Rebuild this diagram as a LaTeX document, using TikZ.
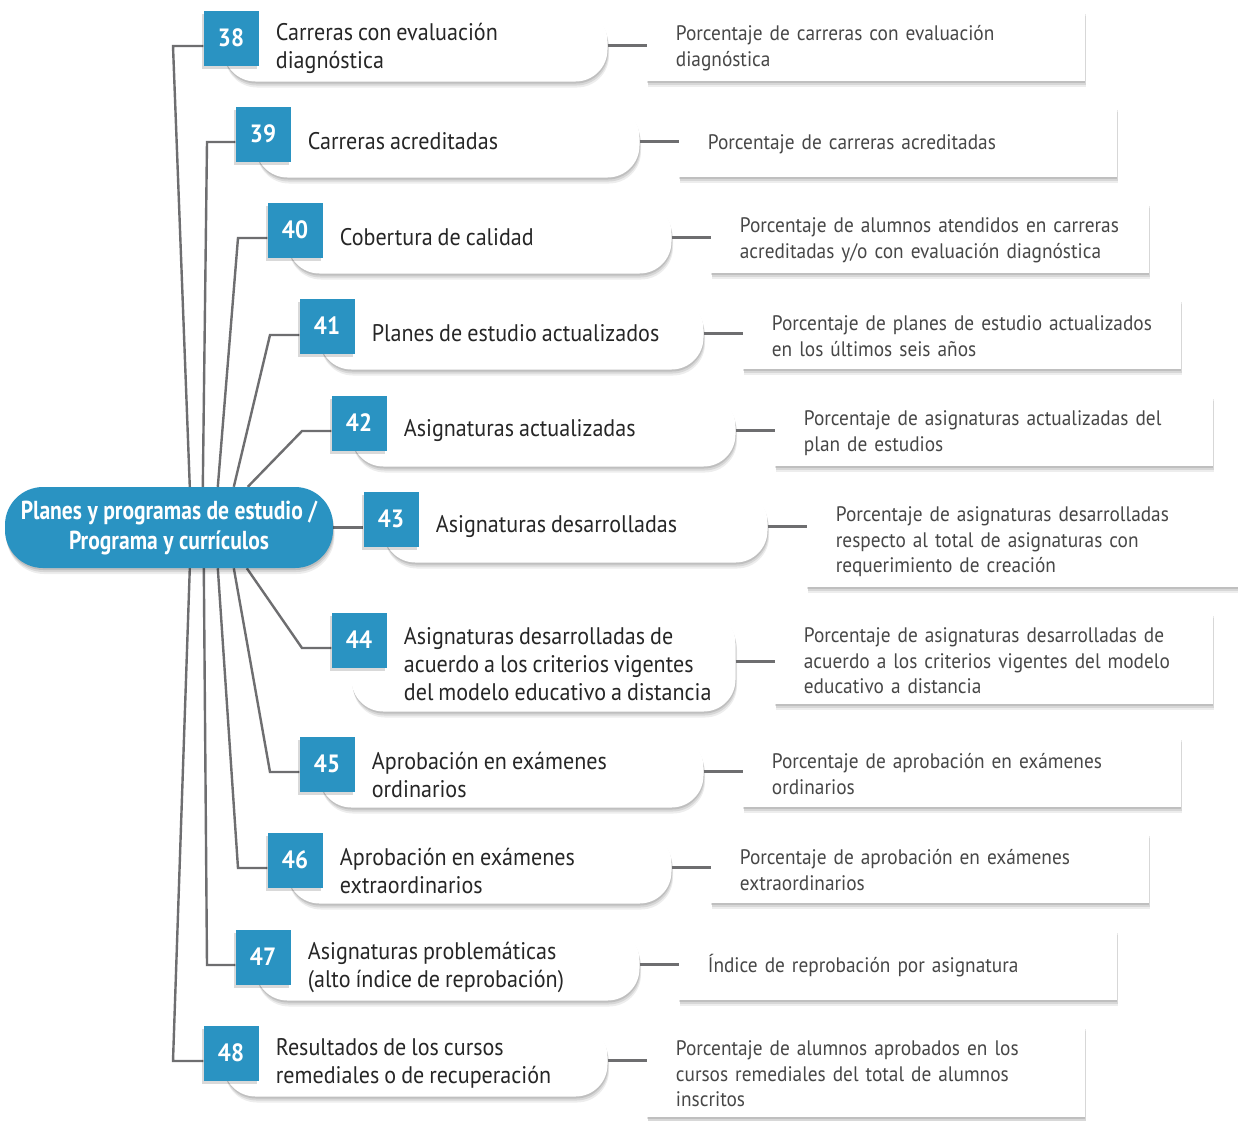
\documentclass[tikz,border=0pt]{standalone}
\usepackage{fontspec}
\newfontfamily\notefont{PT Sans}[FakeStretch=0.92, WordSpace=0.85]
\newfontfamily\headfont{PT Sans}[FakeStretch=0.83]
\usetikzlibrary{positioning,calc,shadows,backgrounds}
\definecolor{boxblue}{HTML}{2A93C2}
\definecolor{linegray}{HTML}{6E6E70}
\definecolor{inkgray}{HTML}{262626}

\begin{document}
\begin{tikzpicture}[x=1pt, y=-1pt, node distance=39pt]
	\tikzstyle{softshade} = [drop shadow={shadow xshift=0.5pt, shadow yshift=-2pt, opacity=0.11, fill=black},
	  drop shadow={shadow xshift=1pt, shadow yshift=-4pt, opacity=0.09, fill=black},
	  drop shadow={shadow xshift=1.5pt, shadow yshift=-6pt, opacity=0.07, fill=black}]
	\tikzstyle{root} = [fill=boxblue, text=white, rounded corners=38pt, minimum width=328pt, minimum height=81pt, inner sep=0pt, align=center, font=\headfont\bfseries\fontsize{26}{30}\selectfont, softshade]
	\tikzstyle{numbox} = [fill=boxblue, text=white, minimum size=55pt, inner sep=0pt, font=\notefont\bfseries\fontsize{25}{28}\selectfont, drop shadow={shadow xshift=-2pt, shadow yshift=-3pt, opacity=0.15, fill=black}]
	\tikzstyle{pill} = [fill=white, rounded corners=32pt, minimum width=384pt, minimum height=72pt, inner sep=0pt, anchor=north west, softshade]
	\tikzstyle{topic} = [anchor=west, align=left, inner sep=0pt, text=inkgray, font=\notefont\fontsize{24}{28}\selectfont]
	\tikzstyle{indicator} = [fill=white, text width=380pt, inner xsep=29pt, inner ysep=10pt, minimum height=71pt, align=left, text=inkgray!85, font=\notefont\fontsize{21}{25.5}\selectfont, execute at begin node={\rule{0pt}{21pt}}, softshade]
	\tikzstyle{conn} = [draw=linegray, line width=2.4pt]
	\useasboundingbox (0,0) rectangle (1238,1120);

	% root
	\node[root] (root) at (169,527.5) {Planes y programas de estudio /\\Programa y currículos};

	% number boxes
	\node[numbox] (n38) at (231,38) {38};
	\node[numbox] (n39) at (263,134) {39};
	\node[numbox] (n40) at (295,230) {40};
	\node[numbox] (n41) at (327,326) {41};
	\node[numbox] (n42) at (359,423) {42};
	\node[numbox] (n43) at (391,519) {43};
	\node[numbox] (n44) at (359,640) {44};
	\node[numbox] (n45) at (327,764) {45};
	\node[numbox] (n46) at (295,860) {46};
	\node[numbox] (n47) at (263,957) {47};
	\node[numbox] (n48) at (231,1053) {48};

	% pills behind the boxes
	\begin{scope}[on background layer]
	  \fill[white] (0,0) rectangle (1238,1120);
	  \node[pill] (p38) at ($(n38.north west)+(20,-1)$) {};
	  \node[pill] (p39) at ($(n39.north west)+(20,-1)$) {};
	  \node[pill] (p40) at ($(n40.north west)+(20,-1)$) {};
	  \node[pill] (p41) at ($(n41.north west)+(20,-1)$) {};
	  \node[pill] (p42) at ($(n42.north west)+(20,-1)$) {};
	  \node[pill] (p43) at ($(n43.north west)+(20,-1)$) {};
	  \node[pill, minimum height=100pt] (p44) at ($(n44.north west)+(20,-1)$) {};
	  \node[pill] (p45) at ($(n45.north west)+(20,-1)$) {};
	  \node[pill] (p46) at ($(n46.north west)+(20,-1)$) {};
	  \node[pill] (p47) at ($(n47.north west)+(20,-1)$) {};
	  \node[pill] (p48) at ($(n48.north west)+(20,-1)$) {};
	\end{scope}

	% topics
	\node[topic] (t38) at ($(n38.east |- p38)+(17,3)$) {Carreras con evaluación\\diagnóstica};
	\node[topic] (t39) at ($(n39.east |- p39)+(17,0)$) {Carreras acreditadas};
	\node[topic] (t40) at ($(n40.east |- p40)+(17,0)$) {Cobertura de calidad};
	\node[topic] (t41) at ($(n41.east |- p41)+(17,0)$) {Planes de estudio actualizados};
	\node[topic] (t42) at ($(n42.east |- p42)+(17,0)$) {Asignaturas actualizadas};
	\node[topic] (t43) at ($(n43.east |- p43)+(17,0)$) {Asignaturas desarrolladas};
	\node[topic] (t44) at ($(n44.east |- p44)+(17,3)$) {Asignaturas desarrolladas de\\acuerdo a los criterios vigentes\\del modelo educativo a distancia};
	\node[topic] (t45) at ($(n45.east |- p45)+(17,3)$) {Aprobación en exámenes\\ordinarios};
	\node[topic] (t46) at ($(n46.east |- p46)+(17,3)$) {Aprobación en exámenes\\extraordinarios};
	\node[topic] (t47) at ($(n47.east |- p47)+(17,3)$) {Asignaturas problemáticas\\(alto índice de reprobación)};
	\node[topic] (t48) at ($(n48.east |- p48)+(17,3)$) {Resultados de los cursos\\remediales o de recuperación};

	% indicators
	\node[indicator, right=of p38.north east, anchor=north west] (r38) {Porcentaje de carreras con evaluación\\diagnóstica};
	\node[indicator, right=of p39.north east, anchor=north west] (r39) {Porcentaje de carreras acreditadas};
	\node[indicator, right=of p40.north east, anchor=north west] (r40) {Porcentaje de alumnos atendidos en carreras\\acreditadas y/o con evaluación diagnóstica};
	\node[indicator, right=of p41.north east, anchor=north west] (r41) {Porcentaje de planes de estudio actualizados\\en los últimos seis años};
	\node[indicator, right=of p42.north east, anchor=north west] (r42) {Porcentaje de asignaturas actualizadas del\\plan de estudios};
	\node[indicator, right=of p43.north east, anchor=north west] (r43) {Porcentaje de asignaturas desarrolladas\\respecto al total de asignaturas con\\requerimiento de creación};
	\node[indicator, right=of p44.north east, anchor=north west] (r44) {Porcentaje de asignaturas desarrolladas de\\acuerdo a los criterios vigentes del modelo\\educativo a distancia};
	\node[indicator, right=of p45.north east, anchor=north west] (r45) {Porcentaje de aprobación en exámenes\\ordinarios};
	\node[indicator, right=of p46.north east, anchor=north west] (r46) {Porcentaje de aprobación en exámenes\\extraordinarios};
	\node[indicator, right=of p47.north east, anchor=north west] (r47) {Índice de reprobación por asignatura};
	\node[indicator, right=of p48.north east, anchor=north west] (r48) {Porcentaje de alumnos aprobados en los\\cursos remediales del total de alumnos\\inscritos};

	% connectors
	\begin{scope}[on background layer]
	  \coordinate (k38) at (173,46);
	  \coordinate (k39) at (207,142);
	  \coordinate (k40) at (238,238);
	  \coordinate (k41) at (270,335);
	  \coordinate (k42) at (302,431);
	  \coordinate (k44) at (302,648);
	  \coordinate (k45) at (270,772);
	  \coordinate (k46) at (238,868);
	  \coordinate (k47) at (207,965);
	  \coordinate (k48) at (173,1061);
	  \draw[conn] ($(root.north west)+(185,0)$) -- (k38) -- (k38 -| n38.west);
	  \draw[conn] ($(root.north west)+(198,0)$) -- (k39) -- (k39 -| n39.west);
	  \draw[conn] ($(root.north west)+(213,0)$) -- (k40) -- (k40 -| n40.west);
	  \draw[conn] ($(root.north west)+(229,0)$) -- (k41) -- (k41 -| n41.west);
	  \draw[conn] ($(root.north west)+(243,0)$) -- (k42) -- (k42 -| n42.west);
	  \draw[conn] (root.east) -- (root.east -| n43.west);
	  \draw[conn] ($(root.south west)+(242,0)$) -- (k44) -- (k44 -| n44.west);
	  \draw[conn] ($(root.south west)+(229,0)$) -- (k45) -- (k45 -| n45.west);
	  \draw[conn] ($(root.south west)+(213,0)$) -- (k46) -- (k46 -| n46.west);
	  \draw[conn] ($(root.south west)+(199,0)$) -- (k47) -- (k47 -| n47.west);
	  \draw[conn] ($(root.south west)+(185,0)$) -- (k48) -- (k48 -| n48.west);
	  \draw[conn] (p38.east) -- (p38.east -| r38.west);
	  \draw[conn] (p39.east) -- (p39.east -| r39.west);
	  \draw[conn] (p40.east) -- (p40.east -| r40.west);
	  \draw[conn] (p41.east) -- (p41.east -| r41.west);
	  \draw[conn] (p42.east) -- (p42.east -| r42.west);
	  \draw[conn] (p43.east) -- (p43.east -| r43.west);
	  \draw[conn] (p44.east) -- (p44.east -| r44.west);
	  \draw[conn] (p45.east) -- (p45.east -| r45.west);
	  \draw[conn] (p46.east) -- (p46.east -| r46.west);
	  \draw[conn] (p47.east) -- (p47.east -| r47.west);
	  \draw[conn] (p48.east) -- (p48.east -| r48.west);
	\end{scope}
\end{tikzpicture}
\end{document}
